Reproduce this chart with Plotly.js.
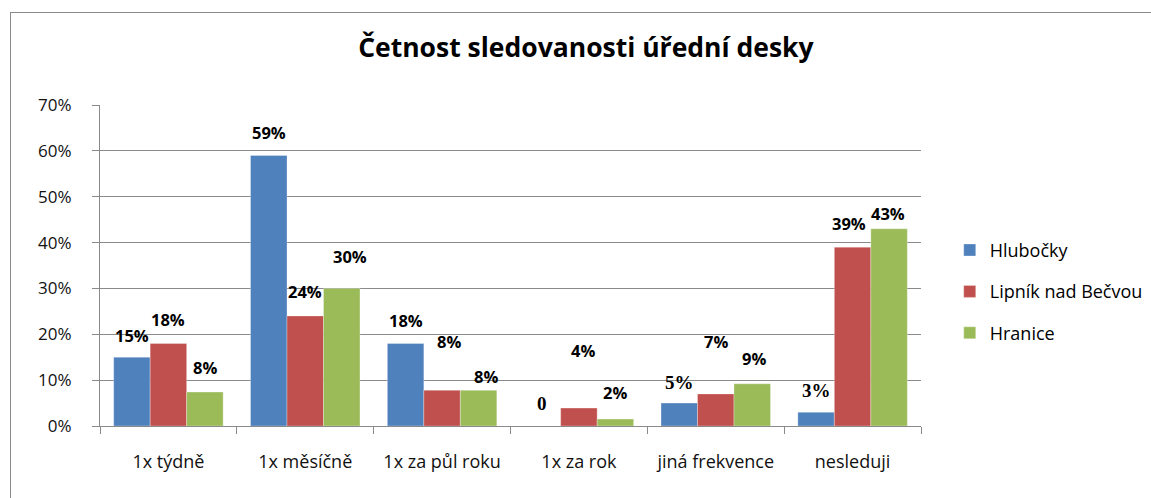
<!DOCTYPE html>
<html>
<head>
<meta charset="utf-8">
<script src="https://cdn.plot.ly/plotly-3.0.1.min.js"></script>
<style>
  html, body { margin: 0; padding: 0; background: #fff; overflow: hidden; }
  #wrap { position: relative; width: 1151px; height: 498px; }
  #chart { position: absolute; left: 0; top: 0; width: 1151px; height: 498px; }
  #frame { position: absolute; left: 10px; top: 12px; width: 1300px; height: 600px;
           border-left: 1.5px solid #8a8a8a; border-top: 1.5px solid #8a8a8a; pointer-events: none; }
</style>
</head>
<body>
<div id="wrap">
  <div id="chart"></div>
  <div id="frame"></div>
</div>
<script>
// ---- data ----
const categories = ["1x týdně", "1x měsíčně", "1x za půl roku", "1x za rok", "jiná frekvence", "nesleduji"];
const seriesNames = ["Hlubočky", "Lipník nad Bečvou", "Hranice"];
const hlubocky = [15, 59, 18, 0, 5, 3];
const lipnik = [18, 24, 7.8, 3.9, 7, 39];
const hranice = [7.4, 30, 7.8, 1.5, 9.2, 43];
const hlubockyLabels = ["15%", "59%", "18%", "0", "5%", "3%"];
const lipnikLabels = ["18%", "24%", "8%", "4%", "7%", "39%"];
const hraniceLabels = ["8%", "30%", "8%", "2%", "9%", "43%"];
const yTickVals = [0, 10, 20, 30, 40, 50, 60, 70];
const yTickText = ["0%", "10%", "20%", "30%", "40%", "50%", "60%", "70%"];

// ---- styling / label placement (not data) ----
const colors = ["#4F81BD", "#C0504D", "#9BBB59"];
const sansFont = "'Open Sans', Lato, sans-serif";
const serifFont = "'Liberation Serif', 'DejaVu Serif', serif";
// pixel nudges of the value labels (above bar top, horizontal shift)
const labelDy = [
  [22, 23, 23, 23, 21, 22],
  [24, 24, 49, 58, 52, 24],
  [25, 32, 14, 27, 25, 15]
];
const labelDx = [
  [0, 0, 0, 0, 0, 0],
  [0, 0, 7, 4, 0, -4],
  [0, 8, 7, 0, 2, -1]
];
// Hlubočky labels at the last three categories are drawn in a serif face
const serifLabel = [
  [false, false, false, true, true, true],
  [false, false, false, false, false, false],
  [false, false, false, false, false, false]
];

const values = [hlubocky, lipnik, hranice];
const labels = [hlubockyLabels, lipnikLabels, hraniceLabels];

const traces = values.map((v, i) => ({
  type: "bar",
  name: seriesNames[i],
  x: categories,
  y: v,
  marker: { color: colors[i], line: { color: "rgba(255,255,255,0.6)", width: 0.5 } },
  legendgroup: "g" + i,
  hoverinfo: "skip"
}));

// bar width in px: plot width / categories * (1 - bargap) / 3
const plotLeft = 100, plotRight = 921;
const catW = (plotRight - plotLeft) / categories.length;
const barW = catW * 0.8 / 3;

const annotations = [];
values.forEach((v, i) => {
  v.forEach((val, j) => {
    const serif = serifLabel[i][j];
    annotations.push({
      x: categories[j], y: val, xref: "x", yref: "y",
      text: labels[i][j],
      showarrow: false,
      xanchor: "center", yanchor: "middle",
      xshift: (i - 1) * barW + labelDx[i][j],
      yshift: labelDy[i][j],
      font: serif ? { family: serifFont, size: 19, color: "#000", weight: "bold" }
                  : { family: sansFont, size: 16.5, color: "#000", weight: "bold" }
    });
  });
});

const layout = {
  width: 1151, height: 498,
  margin: { l: plotLeft, r: 1151 - plotRight, t: 105, b: 72, pad: 0, autoexpand: false },
  paper_bgcolor: "rgba(0,0,0,0)",
  plot_bgcolor: "#fff",
  title: {
    text: "Četnost sledovanosti úřední desky",
    font: { family: sansFont, size: 26.5, color: "#000", weight: "bold" },
    x: 0.509, xanchor: "center", y: 0.905, yanchor: "middle"
  },
  barmode: "group",
  bargap: 0.2,
  bargroupgap: 0,
  showlegend: true,
  legend: {
    x: 1.035, xanchor: "left", y: 0.605, yanchor: "top",
    traceorder: "grouped", tracegroupgap: 15,
    font: { family: sansFont, size: 18, color: "#000" },
    bgcolor: "rgba(0,0,0,0)"
  },
  xaxis: {
    type: "category",
    tickson: "boundaries",
    ticks: "outside", ticklen: 7, tickcolor: "#8a8a8a", tickwidth: 1,
    showline: true, linecolor: "#8a8a8a", linewidth: 1,
    showgrid: false,
    tickfont: { family: sansFont, size: 18, color: "#111" },
    ticklabelstandoff: 19,
    fixedrange: true
  },
  yaxis: {
    range: [0, 70],
    tickvals: yTickVals, ticktext: yTickText,
    ticks: "outside", ticklen: 7, tickcolor: "#8a8a8a", tickwidth: 1,
    showline: true, linecolor: "#8a8a8a", linewidth: 1,
    showgrid: true, gridcolor: "#8a8a8a", gridwidth: 1,
    zeroline: false,
    tickfont: { family: sansFont, size: 17, color: "#111" },
    ticklabelstandoff: 17,
    fixedrange: true
  },
  annotations: annotations
};

Plotly.newPlot("chart", traces, layout, { displayModeBar: false, staticPlot: true });
</script>
</body>
</html>
